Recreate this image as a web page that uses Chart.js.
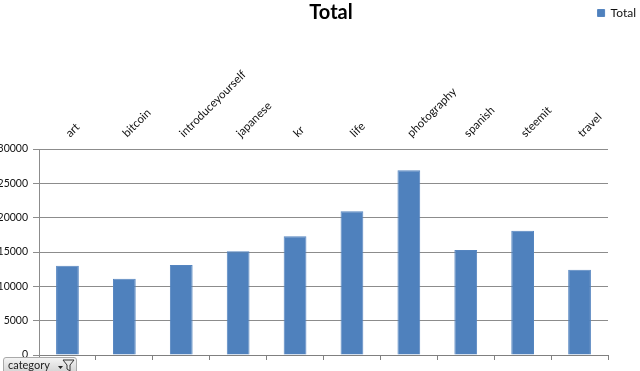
<!DOCTYPE html>
<html>
<head>
<meta charset="utf-8">
<script src="https://cdn.jsdelivr.net/npm/chart.js@4"></script>
<style>
    html, body { margin: 0; padding: 0; background: #fff; overflow: hidden; }
    #wrap { position: relative; width: 640px; height: 371px; }
    #field_btn {
        position: absolute; left: 3px; top: 357px; width: 74px; height: 16px;
        box-sizing: border-box; border: 1px solid #a9a9a9; border-radius: 3px 3px 0 0;
        background: linear-gradient(#f4f4f4, #d5d5d5);
        font: 11px Lato, sans-serif; color: #222; padding-left: 4px; line-height: 14px;
    }
    #field_btn svg { position: absolute; left: 54px; top: 1px; }
</style>
</head>
<body>
<div id="wrap">
    <canvas id="total_chart" width="640" height="371"></canvas>
    <div id="field_btn">category
        <svg width="18" height="12" viewBox="0 0 18 12">
            <path d="M0 7h5l-2.500 3z" fill="#222"/>
            <path d="M5 1h11l-4 5v6l-3-2v-4z" fill="#e8e8e8" stroke="#333" stroke-width="1"/>
        </svg>
    </div>
</div>
<script>
var categories = ["art", "bitcoin", "introduceyourself", "japanese", "kr", "life", "photography", "spanish", "steemit", "travel"];
var total_values = [13000, 11100, 13100, 15100, 17300, 20950, 26900, 15300, 18100, 12400];
var y_ticks = [0, 5000, 10000, 15000, 20000, 25000, 30000];

// title sits right of centre and the legend shares its row in the original
const nudge = {
    id: 'nudge',
    afterLayout(chart) {
        chart.titleBlock.left += 27;
        chart.titleBlock.right += 27;
        chart.legend.left += 32;
        chart.legend.right += 32;
        chart.legend.top = 3;
    }
};

const config = {
    type: 'bar',
    data: {
        labels: categories,
        datasets: [{
            label: 'Total',
            data: total_values,
            backgroundColor: '#4f81bd',
            borderColor: '#5585c0',
            borderWidth: 1,
            barPercentage: 0.4,
            categoryPercentage: 1
        }]
    },
    options: {
        responsive: false,
        animation: false,
        layout: { padding: { left: 0, right: 32, top: 0, bottom: 0 } },
        plugins: {
            tooltip: { enabled: false },
            title: {
                display: true,
                text: 'Total',
                color: '#000',
                font: { family: 'Lato', size: 20, weight: 'bold' },
                padding: { top: 1, bottom: 0 }
            },
            legend: {
                position: 'top',
                align: 'end',
                labels: {
                    boxWidth: 7,
                    boxHeight: 7,
                    padding: 4,
                    color: '#111',
                    font: { family: 'Lato', size: 12 }
                }
            }
        },
        scales: {
            x: {
                position: 'bottom',
                offset: true,
                grid: { drawOnChartArea: false, color: '#808080', tickLength: 5, offset: true },
                border: { color: '#808080' },
                ticks: { display: false },
                afterFit(scale) { scale.height = 16; }
            },
            x2: {
                type: 'category',
                position: 'top',
                offset: true,
                grid: { display: false },
                border: { display: false },
                afterFit(scale) { scale.height = 98; },
                ticks: {
                    color: '#111',
                    font: { family: 'Lato', size: 11.5 },
                    minRotation: 45,
                    maxRotation: 45,
                    autoSkip: false,
                    labelOffset: 10,
                    padding: 1
                }
            },
            y: {
                min: 0,
                max: 30000,
                afterBuildTicks(scale) { scale.ticks = y_ticks.map(v => ({ value: v })); },
                afterFit(scale) { scale.width = 39; },
                grid: { color: '#8c8c8c', tickLength: 6 },
                border: { color: '#8c8c8c' },
                ticks: {
                    color: '#111',
                    font: { family: 'Lato', size: 10.5 },
                    padding: 5,
                    callback: (v) => String(v)
                }
            }
        }
    },
    plugins: [nudge]
};

var myChart = new Chart(document.getElementById('total_chart'), config);
</script>
</body>
</html>
